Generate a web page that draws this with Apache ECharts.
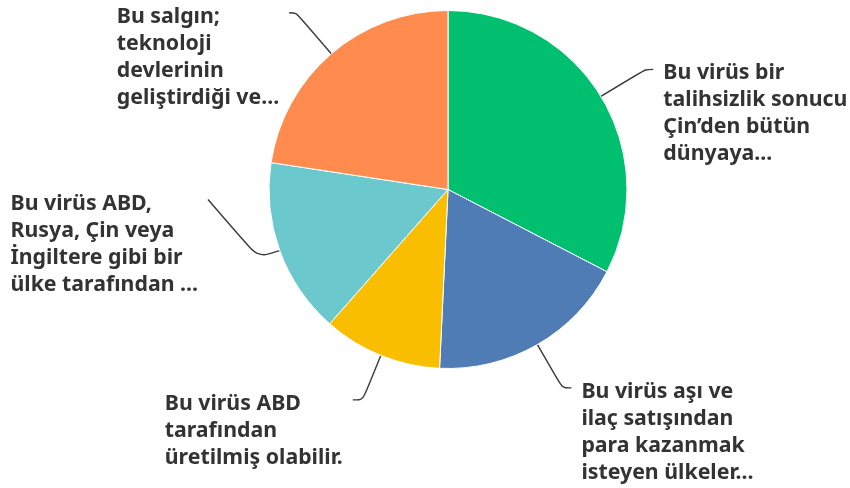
<!DOCTYPE html>
<html>
<head>
<meta charset="utf-8">
<script src="https://cdn.jsdelivr.net/npm/echarts@6/dist/echarts.min.js"></script>
<style>
  html, body { margin: 0; padding: 0; background: #fff; }
  #chart { width: 850px; height: 488px; }
</style>
</head>
<body>
<div id="chart"></div>
<script>
// answers, clockwise from 12 o'clock
const answers = [
  'Bu virüs bir\ntalihsizlik sonucu\nÇin’den bütün\ndünyaya...',
  'Bu virüs aşı ve\nilaç satışından\npara kazanmak\nisteyen ülkeler...',
  'Bu virüs ABD\ntarafından\nüretilmiş olabilir.',
  'Bu virüs ABD,\nRusya, Çin veya\nİngiltere gibi bir\nülke tarafından ...',
  'Bu salgın;\nteknoloji\ndevlerinin\ngeliştirdiği ve...'
];
const shares = [32.6, 18.15, 10.75, 15.9, 22.6];

const colors = ['#00BF6F', '#507CB6', '#F9BE00', '#6BC8CD', '#FF8B4F'];
// leader line lengths [radial, horizontal]
const leaders = [[52, 8], [50, 9], [48, 10], [20, 53], [54, 7]];
const LH = 27;
const TEAL = 3;   // this one's label sits higher than its slice
const tealLift = 58;

const chart = echarts.init(document.getElementById('chart'));

const data = shares.map((v, i) => {
  const n = answers[i].split('\n').length;
  return {
    name: answers[i],
    value: v,
    itemStyle: { color: colors[i] },
    // pad the top so the leader line meets the first text line
    label: { padding: [(n - 1) * LH + 8, 0, 0, 0] },
    labelLine: { length: leaders[i][0], length2: leaders[i][1] }
  };
});

const option = {
  backgroundColor: '#fff',
  animation: false,
  series: [
    {
      type: 'pie',
      center: [448, 189.5],
      radius: 179,
      startAngle: 90,
      clockwise: true,
      avoidLabelOverlap: false,
      itemStyle: { borderColor: '#fff', borderWidth: 1 },
      label: {
        show: true,
        position: 'outside',
        alignTo: 'none',
        distanceToLabelLine: 10,
        formatter: p => '{t|' + p.name + '}',
        rich: {
          t: {
            align: 'left',
            fontFamily: 'Noto Sans',
            fontWeight: 'bold',
            fontSize: 21.3,
            lineHeight: LH,
            color: '#333'
          }
        }
      },
      labelLine: {
        show: true,
        smooth: 0.3,
        lineStyle: { color: '#3a3a3a', width: 1.4 }
      },
      labelLayout: params => {
        if (params.dataIndex !== TEAL) return {};
        const pts = params.labelLinePoints;
        const end = [pts[2][0], pts[2][1] - tealLift];
        return {
          y: end[1],
          labelLinePoints: [pts[0].slice(), [pts[1][0] - 3, pts[1][1]], end]
        };
      },
      emphasis: { disabled: true },
      data: data
    }
  ]
};

chart.setOption(option);
</script>
</body>
</html>
